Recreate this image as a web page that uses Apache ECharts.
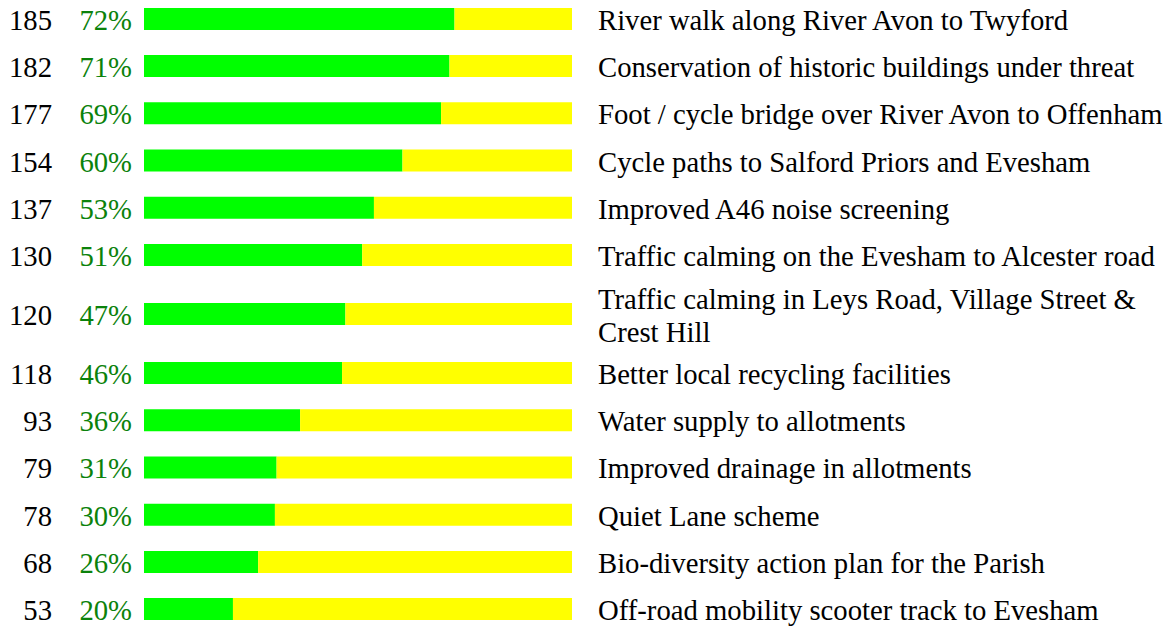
<!DOCTYPE html>
<html>
<head>
<meta charset="utf-8">
<script src="https://cdn.jsdelivr.net/npm/echarts@6/dist/echarts.min.js"></script>
<style>
html,body{margin:0;padding:0;background:#fff;}
#chart{width:1173px;height:628px;}
</style>
</head>
<body>
<div id="chart"></div>
<script>
var labels = [
	'River walk along River Avon to Twyford',
	'Conservation of historic buildings under threat',
	'Foot / cycle bridge over River Avon to Offenham',
	'Cycle paths to Salford Priors and Evesham',
	'Improved A46 noise screening',
	'Traffic calming on the Evesham to Alcester road',
	'Traffic calming in Leys Road, Village Street &\nCrest Hill',
	'Better local recycling facilities',
	'Water supply to allotments',
	'Improved drainage in allotments',
	'Quiet Lane scheme',
	'Bio-diversity action plan for the Parish',
	'Off-road mobility scooter track to Evesham'
];
var counts = [185, 182, 177, 154, 137, 130, 120, 118, 93, 79, 78, 68, 53];
var pcts = ['72%', '71%', '69%', '60%', '53%', '51%', '47%', '46%', '36%', '31%', '30%', '26%', '20%'];
var total = 255;

function echarts_1() {
	var myChart = echarts.init(document.getElementById('chart'), null, {renderer: 'svg'});

	// row positions: a two-line label takes one and a half rows
	var rowPos = [], p = 0, prevH = 1;
	labels.forEach(function (l, i) {
		var h = l.split('\n').length > 1 ? 1.5 : 1;
		if (i > 0) p += (prevH + h) / 2;
		rowPos.push(p);
		prevH = h;
	});
	var data = counts.map(function (c, i) {
		return [c, rowPos[i], i];
	});

	var font = '"Liberation Serif", "Times New Roman", serif';
	var fs = 28.7;
	var option = {
		animation: false,
		grid: {
			left: 144,
			right: 601,
			top: 0,
			bottom: 0
		},
		xAxis: {
			type: 'value',
			min: 0,
			max: total,
			show: false
		},
		yAxis: {
			type: 'value',
			inverse: true,
			min: -0.4,
			max: 12.9,
			show: false
		},
		series: [{
			type: 'custom',
			data: data,
			renderItem: function (params, api) {
				var i = api.value(2);
				var c = api.value(0);
				var y = api.value(1);
				var p0 = api.coord([0, y]);
				var p1 = api.coord([c, y]);
				var p2 = api.coord([total, y]);
				var h = api.size([0, 0.466])[1];
				return {
					type: 'group',
					children: [{
						type: 'rect',
						shape: {x: p0[0], y: p0[1] - h / 2, width: p1[0] - p0[0], height: h},
						style: {fill: '#00ff00'}
					}, {
						type: 'rect',
						shape: {x: p1[0], y: p0[1] - h / 2, width: p2[0] - p1[0], height: h},
						style: {fill: '#ffff00'}
					}, {
						type: 'text',
						x: p0[0] - 92,
						y: p0[1] + 1,
						style: {text: String(c), align: 'right', verticalAlign: 'middle', fontSize: fs, fontFamily: font, fill: '#000'}
					}, {
						type: 'text',
						x: p0[0] - 12,
						y: p0[1] + 1,
						style: {text: pcts[i], align: 'right', verticalAlign: 'middle', fontSize: fs, fontFamily: font, fill: '#0b820b'}
					}, {
						type: 'text',
						x: p2[0] + 26,
						y: p0[1] + 1,
						style: {text: labels[i], align: 'left', verticalAlign: 'middle', fontSize: fs, lineHeight: 33, fontFamily: font, fill: '#000'}
					}]
				};
			}
		}]
	};
	myChart.setOption(option);
	window.addEventListener("resize", function () {
		myChart.resize();
	});
}
echarts_1();
</script>
</body>
</html>
